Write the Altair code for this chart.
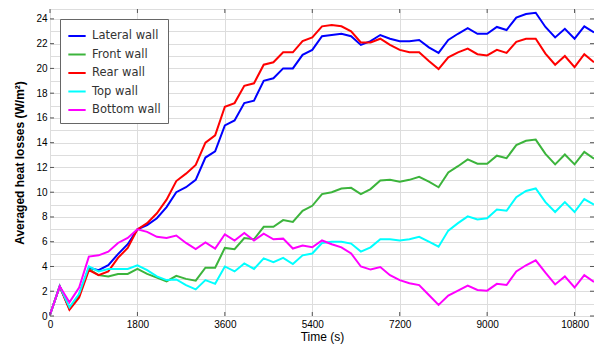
import altair as alt
import pandas as pd

time_s = list(range(0, 11201, 200))

lateral = [0.1, 2.4, 0.6, 1.7, 3.9, 3.7, 4.1, 5.0, 5.8, 7.0,
           7.35, 7.9, 8.8, 10.0, 10.4, 11.0, 12.8, 13.3, 15.4, 15.8,
           17.2, 17.4, 19.0, 19.2, 20.0, 20.0, 21.1, 21.5, 22.6, 22.7,
           22.8, 22.6, 21.9, 22.2, 22.7, 22.4, 22.2, 22.2, 22.3, 21.7,
           21.25, 22.3, 22.8, 23.25, 22.8, 22.8, 23.35, 23.1, 24.1, 24.4,
           24.5, 23.35, 22.5, 23.2, 22.4, 23.4, 22.9]
front = [0.1, 2.4, 0.6, 1.7, 3.8, 3.3, 3.2, 3.4, 3.4, 3.8,
         3.4, 3.1, 2.8, 3.25, 3.0, 2.85, 3.9, 3.9, 5.5, 5.4,
         6.3, 6.2, 7.2, 7.2, 7.75, 7.6, 8.5, 8.9, 9.85, 10.0,
         10.3, 10.35, 9.85, 10.25, 10.95, 11.0, 10.85, 11.0, 11.25, 10.85,
         10.4, 11.6, 12.1, 12.65, 12.3, 12.3, 12.95, 12.75, 13.8, 14.15,
         14.25, 13.1, 12.25, 13.05, 12.25, 13.25, 12.7]
rear = [0.1, 2.4, 0.5, 1.5, 3.7, 3.3, 3.6, 4.7, 5.5, 7.0,
        7.5, 8.3, 9.4, 10.9, 11.5, 12.2, 14.0, 14.6, 16.9, 17.2,
        18.6, 18.8, 20.3, 20.5, 21.3, 21.3, 22.2, 22.5, 23.4, 23.5,
        23.4, 23.0, 22.1, 22.1, 22.4, 21.9, 21.5, 21.3, 21.3, 20.6,
        19.95, 20.9, 21.3, 21.6, 21.15, 21.05, 21.5, 21.25, 22.15, 22.4,
        22.4, 21.2, 20.3, 21.0, 20.1, 21.15, 20.5]
top = [0.1, 2.4, 0.7, 1.8, 4.0, 3.6, 3.8, 3.8, 3.8, 4.1,
       3.7, 3.2, 2.9, 2.95, 2.5, 2.15, 2.9, 2.6, 4.0, 3.6,
       4.25, 3.8, 4.65, 4.35, 4.7, 4.2, 4.9, 5.05, 5.9, 6.0,
       6.0, 5.85, 5.2, 5.55, 6.2, 6.2, 6.1, 6.2, 6.4, 6.0,
       5.6, 6.9, 7.5, 8.05, 7.8, 7.9, 8.6, 8.5, 9.6, 10.1,
       10.3, 9.2, 8.4, 9.2, 8.4, 9.45, 9.0]
bottom = [0.1, 2.4, 1.1, 2.3, 4.8, 4.9, 5.2, 5.9, 6.3, 7.0,
          6.8, 6.4, 6.3, 6.5, 5.9, 5.4, 5.95, 5.45, 6.6, 6.1,
          6.7, 6.1, 6.65, 6.2, 6.25, 5.45, 5.7, 5.55, 6.1, 5.8,
          5.55, 5.05, 4.0, 3.75, 3.95, 3.3, 2.9, 2.65, 2.5, 1.7,
          0.9, 1.65, 2.05, 2.45, 2.1, 2.05, 2.6, 2.5, 3.6, 4.1,
          4.5, 3.5, 2.55, 3.2, 2.3, 3.3, 2.75]

series_names = ["Lateral wall", "Front wall", "Rear wall", "Top wall", "Bottom wall"]
series_colors = ["#0000ff", "#3cb43c", "#ff0000", "#00ffff", "#ff00ff"]
series_values = [lateral, front, rear, top, bottom]

x_ticks = [0, 1800, 3600, 5400, 7200, 9000, 10800]
y_grid = list(range(0, 25))
y_ticks = list(range(0, 25, 2))

rows = []
for name, vals in zip(series_names, series_values):
    for t, v in zip(time_s, vals):
        rows.append({"time": t, "value": v, "series": name})
df = pd.DataFrame(rows)

FONT = "DejaVu Sans"
W, H = 544, 307
xscale = alt.Scale(domain=[0, 11200], nice=False, zero=False)
yscale = alt.Scale(domain=[0, 24.8], nice=False)

xaxis = alt.Axis(title="Time (s)", values=x_ticks, grid=True, ticks=False,
                 domain=False, labelPadding=3, titlePadding=2, format="d",
                 labelOverlap=False, titleFontWeight="normal",
                 titleFontSize=12, labelFlush=False)
yaxis = alt.Axis(title="Averaged heat losses (W/m²)", values=y_grid, grid=True,
                 ticks=False, domain=False, labelPadding=3, titlePadding=9,
                 labelOverlap=False, format="d",
                 labelExpr="datum.value % 2 == 0 ? datum.label : ''",
                 titleFontWeight="bold", titleFontSize=12)

X = alt.X("time:Q", scale=xscale, axis=xaxis)
Y = alt.Y("value:Q", scale=yscale, axis=yaxis)

lines = alt.Chart(df).mark_line(strokeWidth=2).encode(
    x=X, y=Y,
    color=alt.Color("series:N",
                    scale=alt.Scale(domain=series_names, range=series_colors),
                    sort=series_names,
                    legend=alt.Legend(title=None, orient="none", legendX=10, legendY=10,
                                      symbolType="stroke", symbolStrokeWidth=2,
                                      symbolSize=300, rowPadding=2.5,
                                      fillColor="white", strokeColor="#666666",
                                      padding=7, labelFontSize=11.5, labelFont=FONT,
                                      labelColor="#333333", labelOffset=5)),
)

xt = pd.DataFrame({"time": x_ticks})
yt = pd.DataFrame({"value": y_ticks})

ticks_top = alt.Chart(xt).mark_rule(color="#555555", strokeWidth=1).encode(
    x=X, y=alt.value(0), y2=alt.value(4))
ticks_bot = alt.Chart(xt).mark_rule(color="#555555", strokeWidth=1).encode(
    x=X, y=alt.value(H), y2=alt.value(H - 4))
ticks_left = alt.Chart(yt).mark_rule(color="#555555", strokeWidth=1).encode(
    y=Y, x=alt.value(0), x2=alt.value(4))
ticks_right = alt.Chart(yt).mark_rule(color="#555555", strokeWidth=1).encode(
    y=Y, x=alt.value(W), x2=alt.value(W - 4))

chart = alt.layer(lines, ticks_top, ticks_bot, ticks_left, ticks_right).properties(
    width=W, height=H,
    autosize=alt.AutoSizeParams(type="none"),
    padding={"left": 42, "top": 1, "right": 0, "bottom": 28},
).configure_view(
    stroke="#808080", strokeWidth=1.5
).configure_axis(
    labelFont=FONT, titleFont=FONT, labelFontSize=12,
    labelColor="#444444", titleColor="#111111",
    gridColor="#e3e3e3", gridWidth=1,
).configure(background="white")

chart.save("out.html", embed_options={"renderer": "svg", "actions": False})
